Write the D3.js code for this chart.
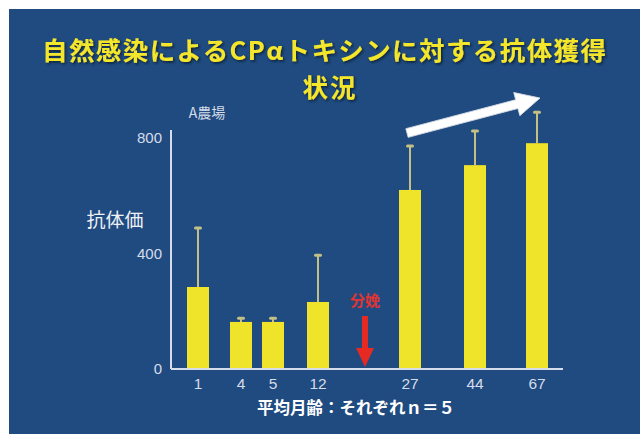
<!DOCTYPE html>
<html>
<head>
<meta charset="utf-8">
<script src="https://cdn.jsdelivr.net/npm/d3@7"></script>
<style>
  html, body { margin: 0; padding: 0; background: #ffffff; }
  svg { display: block; }
</style>
</head>
<body>
<div id="chart"></div>
<script>
// Antibody titre to CPα toxin by mean age in months (n = 5 each), farm A
const ages = ["1", "4", "5", "12", "27", "44", "67"];
const titreMean = [284, 163, 163, 232, 620, 706, 782];
const titreUpper = [488, 176, 176, 394, 772, 824, 889];
const yTicks = [0, 400, 800];
const eventMarker = "分娩";

const W = 640, H = 434;
const svg = d3.select("#chart").append("svg")
  .attr("width", W).attr("height", H)
  .attr("font-family", "'Noto Sans CJK JP', 'Noto Sans', sans-serif");

// slide background
svg.append("rect").attr("x", 9).attr("y", 9).attr("width", W - 9).attr("height", H - 9)
  .attr("fill", "#1f4b80");

const defs = svg.append("defs");
const sh = defs.append("filter").attr("id", "tshadow").attr("x", "-5%").attr("y", "-20%").attr("width", "110%").attr("height", "140%");
sh.append("feDropShadow").attr("dx", 1.5).attr("dy", 1.5).attr("stdDeviation", 0.8).attr("flood-color", "#0a1a30").attr("flood-opacity", 0.9);

// title, two lines
svg.append("text").attr("fill", "#f4e62a").attr("font-weight", "bold")
  .attr("font-size", 25.5).attr("text-anchor", "middle").attr("filter", "url(#tshadow)")
  .attr("x", 324).attr("y", 60)
  .attr("textLength", 564).attr("lengthAdjust", "spacing")
  .text("自然感染によるCPαトキシンに対する抗体獲得");
svg.append("text").attr("fill", "#f4e62a").attr("font-weight", "bold")
  .attr("font-size", 25.5).attr("text-anchor", "middle").attr("filter", "url(#tshadow)")
  .attr("x", 330).attr("y", 97).attr("letter-spacing", 2).text("状況");

// scales
const y = d3.scaleLinear().domain([0, 800]).range([369, 138]);
const xCats = ["1", "4", "5", "12", eventMarker, "27", "44", "67"];
const x = d3.scaleOrdinal().domain(xCats).range([198, 241, 273, 318, 365, 410, 475, 537]);
const barW = 22;

const axisColor = "#d6dcea";

// y axis
const yAxis = d3.axisLeft(y).tickValues(yTicks).tickSize(0).tickPadding(9);
const gy = svg.append("g").attr("transform", "translate(171,0)").call(yAxis);
gy.select(".domain").remove();
gy.selectAll("text").attr("fill", axisColor).attr("font-size", 15)
  .attr("font-family", "Arial, 'Liberation Sans', sans-serif");
svg.append("line").attr("x1", 171).attr("x2", 171).attr("y1", 130).attr("y2", y(0))
  .attr("stroke", axisColor).attr("stroke-width", 2);

// bars with upper error whiskers
const data = ages.map((a, i) => ({ age: a, mean: titreMean[i], upper: titreUpper[i] }));
const errColor = "#c4bf84";

svg.append("g").selectAll("line").data(data).join("line")
  .attr("x1", d => x(d.age)).attr("x2", d => x(d.age))
  .attr("y1", d => y(d.mean)).attr("y2", d => y(d.upper))
  .attr("stroke", errColor).attr("stroke-width", 2);
svg.append("g").selectAll("line").data(data).join("line")
  .attr("x1", d => x(d.age) - 2.5).attr("x2", d => x(d.age) + 2.5)
  .attr("y1", d => y(d.upper)).attr("y2", d => y(d.upper))
  .attr("stroke", errColor).attr("stroke-width", 3).attr("stroke-linecap", "round");

svg.append("g").selectAll("rect").data(data).join("rect")
  .attr("x", d => x(d.age) - barW / 2).attr("width", barW)
  .attr("y", d => y(d.mean)).attr("height", d => y(0) - y(d.mean))
  .attr("fill", "#f0e42a");

// x axis
svg.append("line").attr("x1", 171).attr("x2", 563).attr("y1", y(0)).attr("y2", y(0))
  .attr("stroke", axisColor).attr("stroke-width", 2);
svg.append("g").selectAll("text").data(ages).join("text")
  .attr("x", d => x(d)).attr("y", 389).attr("text-anchor", "middle")
  .attr("fill", axisColor).attr("font-size", 15.5)
  .attr("font-family", "Arial, 'Liberation Sans', sans-serif")
  .text(d => d);

// calving marker
const mx = x(eventMarker);
svg.append("text").attr("x", mx).attr("y", 306).attr("text-anchor", "middle")
  .attr("fill", "#e03434").attr("font-size", 15).attr("font-weight", "bold").text(eventMarker);
svg.append("path")
  .attr("d", `M${mx - 3},316 L${mx + 3},316 L${mx + 3},348 L${mx + 9},348 L${mx},367 L${mx - 9},348 L${mx - 3},348 Z`)
  .attr("fill", "#e42a22");

// rising-trend arrow above the post-calving bars
const ax0 = x("27") - 3, ay0 = 133, ax1 = x("67") + 3, ay1 = 98;
const ang = Math.atan2(ay1 - ay0, ax1 - ax0);
const len = Math.hypot(ax1 - ax0, ay1 - ay0);
const sw = 4.5, hw = 12, hl = 24;
svg.append("path")
  .attr("transform", `translate(${ax0},${ay0}) rotate(${ang * 180 / Math.PI})`)
  .attr("d", `M0,${-sw} L${len - hl},${-sw} L${len - hl},${-hw} L${len},0 L${len - hl},${hw} L${len - hl},${sw} L0,${sw} Z`)
  .attr("fill", "#ffffff").attr("stroke", "#d8dde6").attr("stroke-width", 0.8);

// labels
svg.append("text").attr("x", 207).attr("y", 118).attr("text-anchor", "middle")
  .attr("fill", "#d6dcea").attr("font-size", 14).text("A農場");
svg.append("text").attr("x", 115).attr("y", 227).attr("text-anchor", "middle")
  .attr("fill", "#eef1f6").attr("font-size", 19).text("抗体価");
svg.append("text").attr("x", 356).attr("y", 414).attr("text-anchor", "middle")
  .attr("fill", "#ffffff").attr("font-size", 16.5).attr("font-weight", "bold")
  .text("平均月齢：それぞれｎ＝５");
</script>
</body>
</html>
